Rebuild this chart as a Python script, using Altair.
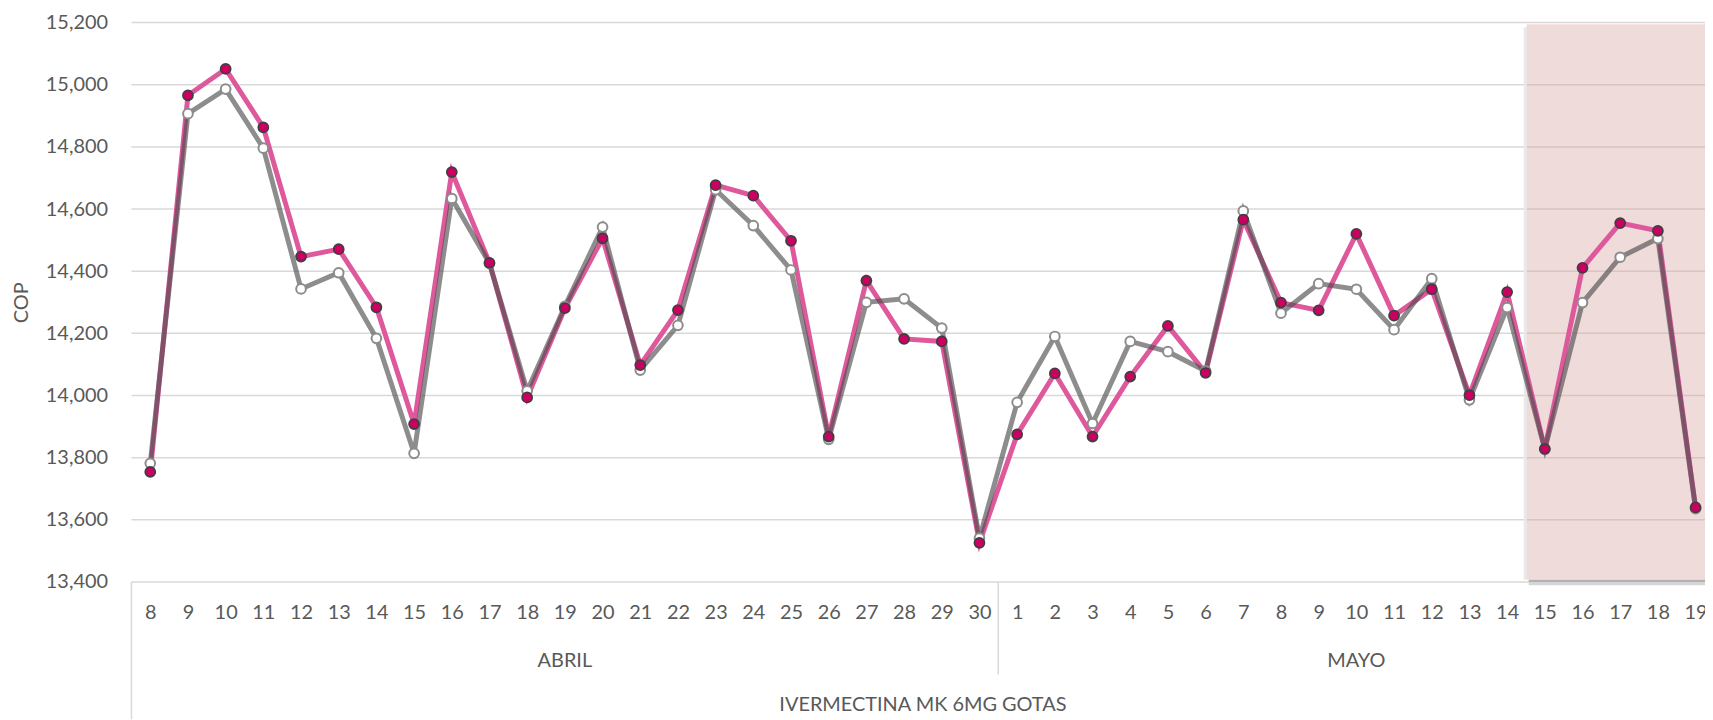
import json
import altair as alt
import pandas as pd

# ---------------- data ----------------
april_days = ["8", "9", "10", "11", "12", "13", "14", "15", "16", "17", "18", "19",
              "20", "21", "22", "23", "24", "25", "26", "27", "28", "29", "30"]
may_days = ["1", "2", "3", "4", "5", "6", "7", "8", "9", "10", "11", "12", "13",
            "14", "15", "16", "17", "18", "19"]

pink_april = [13754, 14966, 15051, 14863, 14447, 14471, 14284, 13908, 14719, 14427,
              13994, 14281, 14506, 14098, 14275, 14677, 14643, 14498, 13868, 14370,
              14182, 14174, 13526]
pink_may = [13875, 14071, 13868, 14061, 14224, 14073, 14566, 14299, 14274, 14520,
            14257, 14342, 14001, 14333, 13828, 14411, 14555, 14530, 13640]

gray_april = [13782, 14907, 14986, 14796, 14343, 14395, 14184, 13814, 14634, 14425,
              14015, 14287, 14542, 14082, 14226, 14662, 14547, 14404, 13859, 14300,
              14311, 14217, 13541]
gray_may = [13978, 14190, 13910, 14174, 14141, 14079, 14594, 14265, 14360, 14342,
            14212, 14376, 13986, 14283, 13827, 14299, 14445, 14505, 13636]

months = ["ABRIL", "MAYO"]
product = "IVERMECTINA MK 6MG GOTAS"
y_ticks = [13400, 13600, 13800, 14000, 14200, 14400, 14600, 14800, 15000, 15200]
highlight_from = 36.52   # just before "15" de mayo
highlight_top = 15195
highlight_bottom = 13407

# ---------------- tables ----------------
days = april_days + may_days
n = len(days)
df = pd.DataFrame({
    "idx": list(range(n)),
    "day": days,
    "pink": pink_april + pink_may,
    "gray": gray_april + gray_may,
})
x_max = n - 1 + 0.25
hl = pd.DataFrame({"x1": [highlight_from], "x2": [x_max],
                   "top": [highlight_top], "bottom": [highlight_bottom]})
grid_df = pd.DataFrame({"v": y_ticks})
n_apr = len(april_days)
month_df = pd.DataFrame({
    "label": months,
    "pos": [(n_apr - 1) / 2, n_apr + (len(may_days) - 1) / 2],
})
sep_df = pd.DataFrame({"pos": [n_apr - 0.5]})
left_df = pd.DataFrame({"pos": [-0.5]})
prod_df = pd.DataFrame({"label": [product], "pos": [(n - 1) / 2]})

FONT = "Lato"
TXT = "#595959"
GRID = "#d9d9d9"

xscale = alt.Scale(domain=[-0.5, x_max], nice=False, zero=False)
yscale = alt.Scale(domain=[y_ticks[0], y_ticks[-1]], nice=False, zero=False)

label_expr = json.dumps(days) + "[datum.value]"

x_axis = alt.Axis(values=list(range(n)), labelExpr=label_expr, grid=False, ticks=False,
                  domain=False, title=None, labelFontSize=20, labelColor=TXT,
                  labelFont=FONT, labelPadding=31, labelBaseline="middle",
                  labelFlush=False, labelOverlap=False, labelBound=False)
y_axis = alt.Axis(values=y_ticks, format=",d", grid=False, ticks=False, domain=False,
                  labelFontSize=20, labelColor=TXT, labelFont=FONT, labelPadding=24,
                  title="COP", titleFontSize=20, titleColor=TXT, titleFont=FONT,
                  titleFontWeight="normal", titlePadding=14)


def X(f):
    return alt.X(f, scale=xscale, axis=x_axis)


def Y(f):
    return alt.Y(f, scale=yscale, axis=y_axis)


grid = alt.Chart(grid_df).mark_rule(color=GRID, strokeWidth=1.5).encode(y=Y("v:Q"))

# soft drop shadow around the highlighted period (outside the box only)
shadow_dark = alt.Chart(hl).mark_rect(color="#b2b2b2", xOffset=2, y2Offset=2.5).encode(
    x=X("x1:Q"), x2="x2:Q", y=Y("bottom:Q"), y2="bottom:Q")
shadow_light = alt.Chart(hl).mark_rect(color="#d6d6d6", xOffset=2, yOffset=2.5,
                                       y2Offset=5.5).encode(
    x=X("x1:Q"), x2="x2:Q", y=Y("bottom:Q"), y2="bottom:Q")
shadow_left = alt.Chart(hl).mark_rect(color="#e9e9e9", xOffset=-3, yOffset=3).encode(
    x=X("x1:Q"), x2="x1:Q", y=Y("top:Q"), y2="bottom:Q")
highlight = alt.Chart(hl).mark_rect(color="#d9a5a5", opacity=0.4).encode(
    x=X("x1:Q"), x2="x2:Q", y=Y("top:Q"), y2="bottom:Q")

pink_line = alt.Chart(df).mark_line(color="#de589c", strokeWidth=5).encode(
    x=X("idx:Q"), y=Y("pink:Q"))
gray_line = alt.Chart(df).mark_line(color="#4c4c4c", opacity=0.64, strokeWidth=5).encode(
    x=X("idx:Q"), y=Y("gray:Q"))
gray_pts = alt.Chart(df).mark_point(shape="circle", filled=True, fill="white",
                                    stroke="#8c8c8c", strokeWidth=2, size=95,
                                    opacity=1).encode(x=X("idx:Q"), y=Y("gray:Q"))
pink_pts = alt.Chart(df).mark_point(shape="circle", filled=True, fill="#cc0063",
                                    stroke="#3f3f3f", strokeWidth=1.8, size=100,
                                    opacity=1).encode(x=X("idx:Q"), y=Y("pink:Q"))

sep = alt.Chart(sep_df).mark_rule(color=GRID, strokeWidth=1.5).encode(
    x=X("pos:Q"), y=alt.value(562), y2=alt.value(655))
left_line = alt.Chart(left_df).mark_rule(color=GRID, strokeWidth=1.5).encode(
    x=X("pos:Q"), y=alt.value(562), y2=alt.value(700))

month_txt = alt.Chart(month_df).mark_text(font=FONT, fontSize=20, color=TXT,
                                          baseline="middle", align="center").encode(
    x=X("pos:Q"), y=alt.value(641), text="label:N")
prod_txt = alt.Chart(prod_df).mark_text(font=FONT, fontSize=20, color=TXT,
                                        baseline="middle", align="center").encode(
    x=X("pos:Q"), y=alt.value(686), text="label:N")

chart = alt.layer(
    grid, shadow_dark, shadow_light, shadow_left, highlight,
    pink_line, gray_line, gray_pts, pink_pts,
    sep, left_line, month_txt, prod_txt,
).properties(
    width=1581, height=562,
    autosize=alt.AutoSizeParams(type="none"),
    padding={"left": 124, "top": 13, "right": 0, "bottom": 137},
    background="white",
).configure_view(stroke=None)

chart.save("out.html", embed_options={"renderer": "svg", "actions": False})
